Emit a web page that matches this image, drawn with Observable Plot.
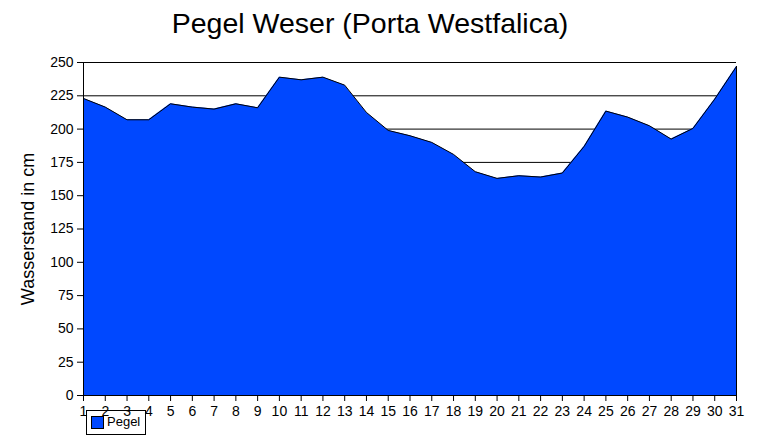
<!DOCTYPE html>
<html>
<head>
<meta charset="utf-8">
<script src="https://cdn.jsdelivr.net/npm/d3@7"></script>
<script src="https://cdn.jsdelivr.net/npm/@observablehq/plot@0.6"></script>
<style>
  html, body { margin: 0; padding: 0; background: #fff; }
  #wrap { position: relative; width: 758px; height: 440px; font-family: "Liberation Sans", Arial, sans-serif; }
  #title { position: absolute; left: 0; width: 740px; top: 7px; text-align: center; font-size: 28.5px; color: #000; }
  #legend { position: absolute; left: 86px; top: 410px; width: 60px; height: 25px; border: 1px solid #000; box-sizing: border-box; font-size: 13px; }
  #legend .sw { position: absolute; left: 4px; top: 5px; width: 13px; height: 13px; background: #0048ff; border: 1px solid #000; box-sizing: border-box; }
  #legend .lb { position: absolute; left: 20px; top: 3px; }
  #chart { position: absolute; left: 0; top: 0; }
</style>
</head>
<body>
<div id="wrap">
  <div id="chart"></div>
  <div id="title">Pegel Weser (Porta Westfalica)</div>
  <div id="legend"><div class="sw"></div><div class="lb">Pegel</div></div>
</div>
<script>
const days = d3.range(1, 32);
const pegel = [223, 216.5, 207, 207, 219, 216.5, 215, 219, 216, 239, 237, 239, 233, 212.5, 199, 195, 190, 181, 168, 163, 165, 164, 167, 187, 213.5, 209, 202.5, 192.5, 200.5, 222.5, 247];
const yTicks = d3.range(0, 251, 25);
const seriesName = "Pegel";
const yLabel = "Wasserstand in cm";

const data = days.map((d, i) => ({day: d, value: pegel[i]}));

const plot = Plot.plot({
  width: 758,
  height: 440,
  marginLeft: 83,
  marginRight: 22,
  marginTop: 62,
  marginBottom: 45,
  style: {fontFamily: "'Liberation Sans', Arial, sans-serif", fontSize: "14px", color: "#000", background: "#fff"},
  x: {domain: [1, 31], label: null},
  y: {domain: [0, 250], label: null},
  marks: [
    Plot.gridY(yTicks, {stroke: "#000", strokeOpacity: 1, strokeWidth: 1}),
    Plot.areaY(data, {x: "day", y: "value", fill: "#0048ff"}),
    Plot.lineY(data, {x: "day", y: "value", stroke: "#000", strokeWidth: 1}),
    Plot.ruleX(data.slice(-1), {x: "day", y1: 0, y2: "value", stroke: "#000"}),
    Plot.ruleX([1], {stroke: "#000"}),
    Plot.ruleY([0], {stroke: "#000"}),
    Plot.axisX({ticks: days, tickFormat: d => String(d), tickSize: 6, tickPadding: 5, fontSize: 14, label: null}),
    Plot.axisY({ticks: yTicks, tickSize: 6, tickPadding: 4, fontSize: 14, label: null}),
    Plot.text([yLabel], {frameAnchor: "left", dx: -55, rotate: -90, fontSize: 18, textAnchor: "middle", text: d => d, fill: "#000"})
  ]
});
document.getElementById("chart").appendChild(plot);
</script>
</body>
</html>
